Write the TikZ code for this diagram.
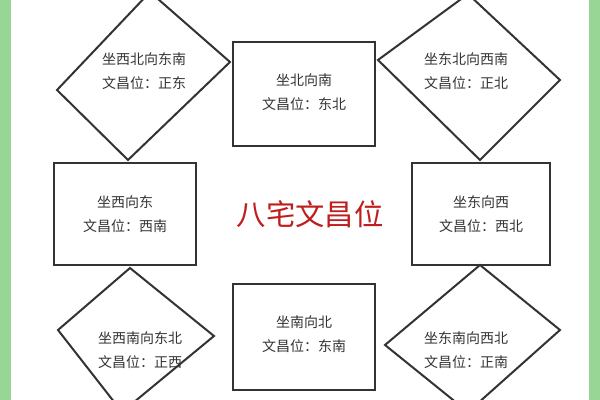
\documentclass[tikz,border=0pt]{standalone}
\usepackage{fontspec}
\setmainfont{Noto Sans CJK SC}
\tikzset{every picture/.style={line width=0.75pt}}
\tikzset{
  boxtext/.style={align=center, font=\fontsize{10.5}{18}\selectfont, text=black!80},
  shapeline/.style={draw=black!80, line width=1.5},
}
\begin{document}
\begin{tikzpicture}[x=0.75pt,y=0.75pt,yscale=-1,xscale=1]
\useasboundingbox (0,0) rectangle (600,400);
%Green side strips
\fill [color={rgb, 255:red, 152; green, 214; blue, 150 }] (0,0) rectangle (11,400);
\fill [color={rgb, 255:red, 152; green, 214; blue, 150 }] (589,0) rectangle (600,400);

%Shape: Diamonds
\draw [shapeline] (150,-8) -- (230,62) -- (128,160) -- (57,90) -- cycle ;
\draw [shapeline] (468,-6) -- (560,80) -- (480,160) -- (378,60) -- cycle ;
\draw [shapeline] (130,268) -- (214,336) -- (122,412) -- (58,330) -- cycle ;
\draw [shapeline] (480,265) -- (560,330) -- (468,412) -- (385,345) -- cycle ;

%Shape: Rectangles
\draw [shapeline] (233,42) -- (375,42) -- (375,146) -- (233,146) -- cycle ;
\draw [shapeline] (54,163) -- (196,163) -- (196,265) -- (54,265) -- cycle ;
\draw [shapeline] (412,163) -- (550,163) -- (550,265) -- (412,265) -- cycle ;
\draw [shapeline] (233,284) -- (375,284) -- (375,390) -- (233,390) -- cycle ;

% Text Nodes
\node (nw) [boxtext] at (144,71) {坐西北向东南\\文昌位：正东};
\node (n)  [boxtext] at (304,92) {坐北向南\\文昌位：东北};
\node (ne) [boxtext] at (466,71) {坐东北向西南\\文昌位：正北};
\node (w)  [boxtext] at (125,214) {坐西向东\\文昌位：西南};
\node (e)  [boxtext] at (481,214) {坐东向西\\文昌位：西北};
\node (sw) [boxtext] at (140,350) {坐西南向东北\\文昌位：正西};
\node (s)  [boxtext] at (304,334) {坐南向北\\文昌位：东南};
\node (se) [boxtext] at (466,350) {坐东南向西北\\文昌位：正南};
\node (title) [font=\fontsize{22}{24}\selectfont, text={rgb,255:red,190;green,30;blue,30}] at (310,214) {八宅文昌位};
\end{tikzpicture}
\end{document}
